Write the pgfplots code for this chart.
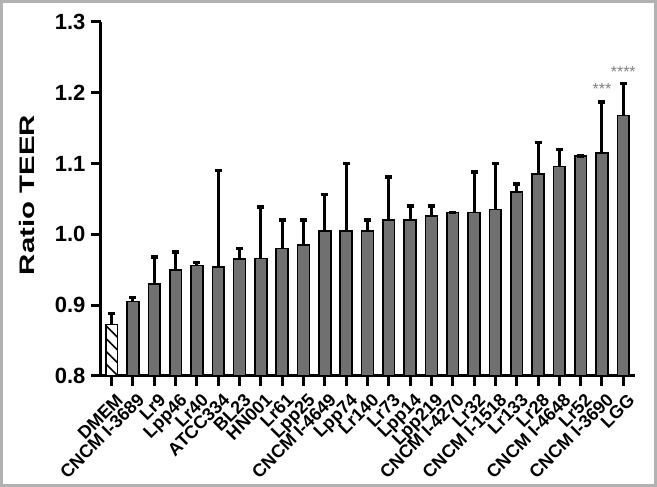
\documentclass[border=0pt]{standalone}
\usepackage{fontspec}
\setmainfont{Liberation Sans}
\usepackage{pgfplots}
\pgfplotsset{compat=1.18}
\usetikzlibrary{patterns.meta}

\definecolor{bargray}{RGB}{112,112,112}

\begin{document}
\begin{tikzpicture}[x=1pt,y=1pt]
\useasboundingbox (0,0) rectangle (657,487);
\draw[gray!60, line width=3pt] (1.5,1.5) rectangle (655.5,485.5);
\begin{axis}[
    at={(101pt,111pt)}, anchor=south west,
    scale only axis, width=534pt, height=354pt,
    xmin=-0.5, xmax=24.55, ymin=0.8, ymax=1.3,
    axis lines*=left,
    axis line style={line width=3pt},
    tick align=outside,
    major tick length=10pt,
    tick style={line width=3pt, black},
    ytick={0.8,0.9,1.0,1.1,1.2,1.3},
    yticklabel style={font=\bfseries\fontsize{22}{22}\selectfont, xshift=-2pt,
        /pgf/number format/.cd, fixed, fixed zerofill, precision=1, assume math mode=true},
    xtick={0,...,24},
    xticklabels={DMEM,CNCM I-3689,Lr9,Lpp46,Lr40,ATCC334,BL23,HN001,Lr61,Lpp25,CNCM I-4649,Lpp74,Lr140,Lr73,Lpp14,Lpp219,CNCM I-4270,Lr32,CNCM I-1518,Lr133,Lr28,CNCM I-4648,Lr52,CNCM I-3690,LGG},
    xticklabel style={font=\bfseries\fontsize{18}{18}\selectfont, rotate=45, anchor=north east, inner sep=1pt, yshift=-6pt, xshift=-1pt},
    ylabel={\scalebox{1.4}[1]{Ratio TEER}},
    ylabel style={font=\bfseries\fontsize{21}{21}\selectfont, at={(axis description cs:-0.1236,0.511)}, anchor=base},
    ybar, bar width=11.8pt,
]
\addplot[bar shift=0pt, fill=white, draw=black, line width=1.6pt,
    postaction={pattern={Lines[angle=-45, distance=9pt, line width=1.6pt]}},
    error bars/.cd, y dir=plus, y explicit,
    error bar style={line width=3pt, black},
    error mark options={rotate=90, mark size=3.5pt, line width=3.5pt, black}]
    coordinates {(0,0.873) +- (0,0.015)};
\addplot[bar shift=0pt, fill=bargray, draw=black, line width=1.6pt,
    error bars/.cd, y dir=plus, y explicit,
    error bar style={line width=3pt, black},
    error mark options={rotate=90, mark size=3.5pt, line width=3.5pt, black}]
    coordinates {
    (1,0.905) +- (0,0.006)
    (2,0.930) +- (0,0.038)
    (3,0.950) +- (0,0.025)
    (4,0.956) +- (0,0.004)
    (5,0.954) +- (0,0.136)
    (6,0.965) +- (0,0.015)
    (7,0.966) +- (0,0.073)
    (8,0.980) +- (0,0.040)
    (9,0.985) +- (0,0.035)
    (10,1.005) +- (0,0.051)
    (11,1.005) +- (0,0.095)
    (12,1.005) +- (0,0.015)
    (13,1.020) +- (0,0.061)
    (14,1.020) +- (0,0.020)
    (15,1.026) +- (0,0.014)
    (16,1.031) +- (0,0.0)
    (17,1.031) +- (0,0.057)
    (18,1.035) +- (0,0.065)
    (19,1.060) +- (0,0.011)
    (20,1.085) +- (0,0.045)
    (21,1.096) +- (0,0.024)
    (22,1.111) +- (0,0.0)
    (23,1.115) +- (0,0.072)
    (24,1.168) +- (0,0.045)
    };
\node[gray, font=\fontsize{16}{16}\selectfont, anchor=base] at (axis cs:23,1.197) {***};
\node[gray, font=\fontsize{16}{16}\selectfont, anchor=base] at (axis cs:24,1.222) {****};
\end{axis}
\end{tikzpicture}
\end{document}
